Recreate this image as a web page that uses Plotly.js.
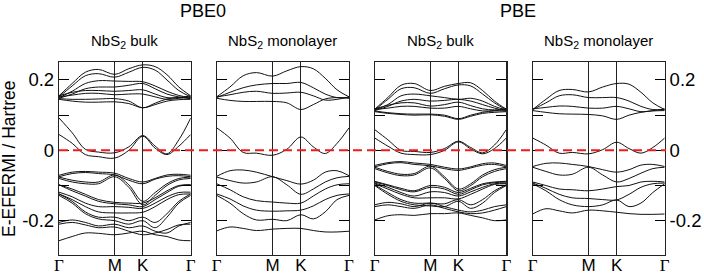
<!DOCTYPE html>
<html>
<head>
<meta charset="utf-8">
<script src="https://cdn.plot.ly/plotly-3.0.1.min.js"></script>
<style>html,body{margin:0;padding:0;background:#fff;}#chart{width:704px;height:277px;}</style>
</head>
<body>
<div id="chart"></div>
<script>
// k-path sample positions (fraction of path): Γ ... M ... K ... Γ
const kPath = [0, 0.1, 0.2, 0.3, 0.423, 0.53, 0.636, 0.73, 0.82, 0.91, 1];
const kTickVals = [0, 0.423, 0.636, 1];
const kTickText = ['Γ', 'M', 'K', 'Γ'];
const eTickVals = [-0.2, 0, 0.2];
const eTickText = ['-0.2', '0', '0.2'];
const eMinorVals = [-0.1, 0.1];
const functionals = ['PBE0', 'PBE'];
const panelTitles = ['NbS<sub>2</sub> bulk', 'NbS<sub>2</sub> monolayer', 'NbS<sub>2</sub> bulk', 'NbS<sub>2</sub> monolayer'];
const fermiLevel = 0;

// PBE0 bulk bands (Hartree, relative to E_F)
const pbe0Bulk = [
  [0.155, 0.19, 0.222, 0.23, 0.216, 0.232, 0.243, 0.238, 0.215, 0.18, 0.155],
  [0.152, 0.183, 0.212, 0.218, 0.208, 0.222, 0.236, 0.228, 0.2, 0.17, 0.152],
  [0.15, 0.168, 0.19, 0.198, 0.197, 0.196, 0.195, 0.183, 0.168, 0.156, 0.15],
  [0.148, 0.16, 0.175, 0.18, 0.18, 0.185, 0.19, 0.175, 0.16, 0.152, 0.148],
  [0.155, 0.165, 0.17, 0.17, 0.168, 0.17, 0.172, 0.16, 0.15, 0.15, 0.155],
  [0.152, 0.157, 0.162, 0.162, 0.158, 0.16, 0.16, 0.152, 0.145, 0.148, 0.152],
  [0.147, 0.145, 0.145, 0.146, 0.147, 0.14, 0.121, 0.134, 0.146, 0.15, 0.147],
  [0.145, 0.14, 0.137, 0.137, 0.138, 0.133, 0.121, 0.13, 0.14, 0.144, 0.145],
  [0.092, 0.05, 0.003, -0.005, -0.007, 0.01, 0.042, 0.012, -0.01, 0.03, 0.092],
  [0.045, 0.02, -0.012, -0.018, -0.022, 0.0, 0.04, 0.006, -0.012, 0.012, 0.045],
  [-0.071, -0.062, -0.06, -0.062, -0.065, -0.08, -0.09, -0.08, -0.07, -0.068, -0.071],
  [-0.075, -0.066, -0.063, -0.066, -0.07, -0.085, -0.095, -0.082, -0.074, -0.072, -0.075],
  [-0.076, -0.085, -0.09, -0.09, -0.07, -0.098, -0.145, -0.12, -0.095, -0.08, -0.076],
  [-0.08, -0.09, -0.095, -0.095, -0.075, -0.105, -0.155, -0.128, -0.1, -0.084, -0.08],
  [-0.098, -0.11, -0.125, -0.14, -0.148, -0.15, -0.15, -0.135, -0.115, -0.1, -0.098],
  [-0.098, -0.115, -0.13, -0.145, -0.152, -0.155, -0.16, -0.14, -0.12, -0.102, -0.098],
  [-0.119, -0.132, -0.15, -0.16, -0.16, -0.162, -0.165, -0.15, -0.132, -0.12, -0.119],
  [-0.124, -0.14, -0.16, -0.175, -0.178, -0.178, -0.176, -0.16, -0.14, -0.126, -0.124],
  [-0.124, -0.145, -0.175, -0.19, -0.19, -0.2, -0.19, -0.205, -0.18, -0.145, -0.124],
  [-0.128, -0.15, -0.18, -0.195, -0.2, -0.21, -0.2, -0.22, -0.19, -0.15, -0.128],
  [-0.205, -0.198, -0.205, -0.215, -0.21, -0.22, -0.215, -0.23, -0.235, -0.215, -0.205],
  [-0.21, -0.205, -0.212, -0.22, -0.218, -0.23, -0.24, -0.235, -0.225, -0.212, -0.21],
  [-0.257, -0.245, -0.235, -0.236, -0.24, -0.235, -0.23, -0.24, -0.245, -0.255, -0.257]
];

// PBE0 monolayer bands
const pbe0Mono = [
  [0.152, 0.18, 0.212, 0.221, 0.211, 0.226, 0.238, 0.232, 0.205, 0.172, 0.152],
  [0.150, 0.165, 0.178, 0.186, 0.19, 0.19, 0.193, 0.178, 0.160, 0.150, 0.150],
  [0.152, 0.158, 0.165, 0.168, 0.162, 0.163, 0.165, 0.155, 0.143, 0.145, 0.152],
  [0.148, 0.142, 0.139, 0.139, 0.139, 0.135, 0.116, 0.13, 0.146, 0.15, 0.148],
  [0.064, 0.035, -0.006, -0.008, -0.014, 0.003, 0.038, 0.01, -0.009, 0.02, 0.064],
  [-0.074, -0.058, -0.056, -0.062, -0.075, -0.086, -0.096, -0.085, -0.062, -0.058, -0.072],
  [-0.076, -0.086, -0.093, -0.09, -0.075, -0.098, -0.125, -0.11, -0.09, -0.078, -0.074],
  [-0.095, -0.112, -0.132, -0.143, -0.147, -0.15, -0.15, -0.13, -0.11, -0.098, -0.095],
  [-0.124, -0.138, -0.158, -0.17, -0.173, -0.172, -0.17, -0.158, -0.14, -0.128, -0.124],
  [-0.128, -0.15, -0.18, -0.198, -0.196, -0.2, -0.183, -0.195, -0.175, -0.14, -0.128],
  [-0.229, -0.218, -0.222, -0.228, -0.224, -0.222, -0.222, -0.228, -0.232, -0.232, -0.23]
];

// PBE bulk bands
const pbeBulk = [
  [0.117, 0.15, 0.185, 0.19, 0.17, 0.182, 0.19, 0.192, 0.17, 0.14, 0.117],
  [0.115, 0.145, 0.175, 0.178, 0.162, 0.175, 0.186, 0.183, 0.16, 0.135, 0.115],
  [0.115, 0.13, 0.155, 0.16, 0.155, 0.15, 0.145, 0.148, 0.14, 0.125, 0.115],
  [0.113, 0.125, 0.14, 0.145, 0.14, 0.142, 0.145, 0.14, 0.13, 0.12, 0.113],
  [0.118, 0.128, 0.135, 0.135, 0.126, 0.13, 0.137, 0.127, 0.118, 0.115, 0.118],
  [0.116, 0.12, 0.125, 0.125, 0.12, 0.12, 0.125, 0.118, 0.112, 0.113, 0.116],
  [0.112, 0.107, 0.104, 0.103, 0.103, 0.1, 0.09, 0.1, 0.108, 0.112, 0.112],
  [0.11, 0.105, 0.102, 0.1, 0.101, 0.097, 0.088, 0.097, 0.105, 0.108, 0.11],
  [0.059, 0.03, 0.0, -0.003, -0.006, 0.005, 0.026, 0.008, -0.007, 0.015, 0.059],
  [0.035, 0.012, -0.008, -0.012, -0.012, 0.0, 0.024, 0.004, -0.01, 0.005, 0.035],
  [-0.043, -0.035, -0.032, -0.036, -0.04, -0.048, -0.053, -0.047, -0.038, -0.036, -0.043],
  [-0.047, -0.038, -0.035, -0.04, -0.044, -0.052, -0.057, -0.05, -0.042, -0.04, -0.047],
  [-0.048, -0.06, -0.068, -0.066, -0.045, -0.075, -0.11, -0.095, -0.07, -0.055, -0.048],
  [-0.052, -0.064, -0.072, -0.07, -0.05, -0.08, -0.115, -0.1, -0.075, -0.06, -0.052],
  [-0.088, -0.098, -0.108, -0.115, -0.1, -0.105, -0.12, -0.108, -0.095, -0.09, -0.088],
  [-0.09, -0.1, -0.112, -0.118, -0.105, -0.11, -0.125, -0.112, -0.098, -0.092, -0.09],
  [-0.093, -0.105, -0.12, -0.13, -0.118, -0.12, -0.13, -0.118, -0.105, -0.095, -0.093],
  [-0.095, -0.11, -0.125, -0.135, -0.135, -0.135, -0.138, -0.125, -0.11, -0.097, -0.095],
  [-0.098, -0.12, -0.14, -0.15, -0.15, -0.152, -0.14, -0.155, -0.14, -0.115, -0.098],
  [-0.1, -0.125, -0.145, -0.155, -0.158, -0.16, -0.145, -0.165, -0.15, -0.12, -0.1],
  [-0.155, -0.148, -0.152, -0.16, -0.15, -0.16, -0.17, -0.175, -0.17, -0.16, -0.155],
  [-0.16, -0.155, -0.16, -0.165, -0.155, -0.165, -0.175, -0.18, -0.178, -0.17, -0.16],
  [-0.198, -0.186, -0.183, -0.185, -0.18, -0.18, -0.178, -0.185, -0.192, -0.2, -0.198]
];

// PBE monolayer bands
const pbeMono = [
  [0.116, 0.145, 0.17, 0.173, 0.166, 0.18, 0.19, 0.188, 0.165, 0.135, 0.116],
  [0.116, 0.135, 0.155, 0.158, 0.15, 0.15, 0.15, 0.14, 0.125, 0.116, 0.116],
  [0.118, 0.122, 0.126, 0.125, 0.12, 0.12, 0.125, 0.118, 0.11, 0.113, 0.118],
  [0.113, 0.108, 0.104, 0.103, 0.102, 0.098, 0.088, 0.1, 0.108, 0.112, 0.113],
  [0.035, 0.015, -0.008, -0.006, -0.01, 0.002, 0.023, 0.005, -0.008, 0.008, 0.035],
  [-0.046, -0.037, -0.036, -0.04, -0.046, -0.055, -0.062, -0.055, -0.042, -0.04, -0.046],
  [-0.048, -0.06, -0.07, -0.068, -0.048, -0.07, -0.09, -0.08, -0.065, -0.052, -0.048],
  [-0.09, -0.1, -0.11, -0.112, -0.115, -0.11, -0.103, -0.1, -0.09, -0.088, -0.09],
  [-0.093, -0.108, -0.125, -0.135, -0.137, -0.14, -0.141, -0.125, -0.105, -0.095, -0.093],
  [-0.095, -0.115, -0.14, -0.155, -0.16, -0.155, -0.141, -0.16, -0.15, -0.12, -0.095],
  [-0.181, -0.166, -0.172, -0.178, -0.17, -0.172, -0.176, -0.18, -0.182, -0.182, -0.181]
];

const panels = [pbe0Bulk, pbe0Mono, pbeBulk, pbeMono];

// ---- layout geometry (pixels in a 704x277 figure) ----
const W = 704, H = 277;
const panelPx = [[59, 190.7], [216.7, 349], [374.7, 506.3], [532.7, 664.7]];
const topPx = 61.7, botPx = 254.8;
const yRange = [-0.297, 0.252];

const FONT = 'Liberation Sans, Arial, Helvetica, sans-serif';
const gamma = '<span style="font-family:Liberation Serif, Times New Roman, serif">Γ</span>';
const kText = kTickText.map(t => t === 'Γ' ? gamma : t);

const traces = [];
panels.forEach((bands, p) => {
  const ax = p === 0 ? '' : String(p + 1);
  bands.forEach(b => {
    traces.push({
      x: kPath, y: b, xaxis: 'x' + ax, yaxis: 'y' + ax,
      type: 'scatter', mode: 'lines',
      line: {color: '#111', width: 1, shape: 'spline', smoothing: 1},
      hoverinfo: 'skip', showlegend: false
    });
  });
});

const layout = {
  width: W, height: H,
  margin: {l: 0, r: 0, t: 0, b: 0},
  paper_bgcolor: '#fff', plot_bgcolor: '#fff',
  font: {family: FONT, color: '#000'},
  showlegend: false,
  annotations: [],
  shapes: []
};

panelPx.forEach((px, p) => {
  const ax = p === 0 ? '' : String(p + 1);
  layout['xaxis' + ax] = {
    domain: [px[0] / W, px[1] / W],
    range: [0, 1],
    anchor: 'y' + ax,
    tickmode: 'array', tickvals: kTickVals, ticktext: kText,
    ticks: '', ticklabelstandoff: -5,
    showgrid: true, gridcolor: '#222', gridwidth: 1,
    zeroline: false, showline: true, mirror: true, linecolor: '#222', linewidth: 1.2,
    tickfont: {size: 17, family: FONT, color: '#000'}
  };
  layout['yaxis' + ax] = {
    domain: [1 - botPx / H, 1 - topPx / H],
    range: yRange,
    anchor: 'x' + ax,
    side: p === 3 ? 'right' : 'left',
    tickmode: 'array', tickvals: eTickVals, ticktext: eTickText,
    ticks: 'inside', ticklen: 10, tickwidth: 1, tickcolor: '#000',
    minor: {tickmode: 'array', tickvals: eMinorVals, ticks: 'inside', ticklen: 10, tickwidth: 1, tickcolor: '#000', showgrid: false},
    showticklabels: p === 0 || p === 3,
    showgrid: false, zeroline: false,
    showline: true, mirror: 'ticks', linecolor: '#222', linewidth: 1.2,
    tickfont: {size: 18.5, family: FONT, color: '#000'}
  };
  layout.annotations.push({
    text: panelTitles[p], xref: 'paper', yref: 'paper',
    x: (px[0] + px[1]) / 2 / W, y: 1 - 42 / H,
    xanchor: 'center', yanchor: 'middle', showarrow: false,
    font: {size: 15, family: FONT, color: '#000'}
  });
});

// functional headers
[[functionals[0], 203], [functionals[1], 518]].forEach(([t, cx]) => {
  layout.annotations.push({
    text: t, xref: 'paper', yref: 'paper', x: cx / W, y: 1 - 11 / H,
    xanchor: 'center', yanchor: 'middle', showarrow: false,
    font: {size: 18, family: FONT, color: '#000'}
  });
});

// y-axis title
layout.annotations.push({
  text: 'E-EFERMI / Hartree', xref: 'paper', yref: 'paper',
  x: 9 / W, y: 1 - 159 / H, textangle: -90,
  xanchor: 'center', yanchor: 'middle', showarrow: false,
  font: {size: 17.5, family: FONT, color: '#000'}
});

// Fermi level line across all panels
layout.shapes.push({
  type: 'line', xref: 'paper', yref: 'y',
  x0: 59 / W, x1: 666 / W, y0: fermiLevel, y1: fermiLevel,
  line: {color: '#ee1c1c', width: 2, dash: '9px,5px'},
  layer: 'above'
});

Plotly.newPlot('chart', traces, layout, {displayModeBar: false, staticPlot: true});
</script>
</body>
</html>
